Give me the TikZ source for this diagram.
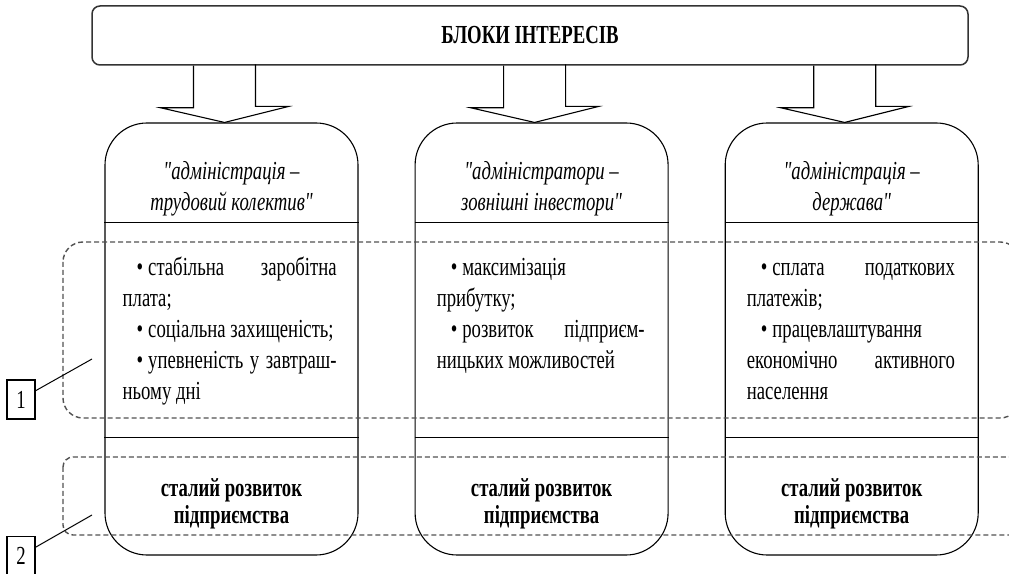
\documentclass[tikz,border=0pt]{standalone}
\usepackage{fontspec}
\setmainfont{Liberation Serif}[FakeStretch=0.72, Ligatures=TeXOff]
\usetikzlibrary{positioning,calc}
\newcommand{\bitem}{\par\hspace*{14pt}•\hspace{5pt}}
\tikzset{
  block/.style={
    draw,
    line width=1.1pt,
    rounded corners=42pt,
    minimum width=253pt,
    minimum height=432pt,
    inner sep=0pt,
  },
  banner/.style={draw=black!80, line width=1.5pt, rounded corners=8pt,
    minimum width=876pt, minimum height=59pt,
    font=\bfseries\fontsize{26}{30}\selectfont},
  head/.style={align=center, inner sep=0pt, font=\itshape\fontsize{26}{31}\selectfont},
  points/.style={anchor=base west, inner sep=0pt, font=\fontsize{26}{31}\selectfont},
  foot/.style={align=center, inner sep=0pt, font=\bfseries\fontsize{26}{27}\selectfont},
  zone/.style={draw=black!68, line width=1.4pt, dash pattern=on 5pt off 3pt},
  lab/.style={draw, line width=1.1pt, minimum width=28pt, minimum height=39pt,
    inner sep=0pt, font=\fontsize{26}{28}\selectfont},
}
\begin{document}
\begin{tikzpicture}[x=1pt, y=1pt, node distance=56pt]
  \useasboundingbox (0,0) rectangle (1009,573);
  \clip (0,0) rectangle (1009,573);

  \node[banner] (top) at (530,537.5) {БЛОКИ ІНТЕРЕСІВ};

  \node[block] (b1) at (231.5,234) {};
  \node[block, right=of b1] (b2) {};
  \node[block, right=of b2] (b3) {};

  % fat arrows and split lines
  \foreach \b in {b1,b2,b3}{
    \draw[line width=1.1pt] ($(\b.north |- top.south)+(-38,0)$) -- ++(0,-42) -- ++(-33,0)
      -- ($(\b.north)+(-7,0)$) -- ++(64,16) -- ++(-33,0) -- ++(0,42);
    \draw[line width=1.1pt] ($(\b.north west)+(0,-100)$) -- ($(\b.north east)+(0,-100)$);
    \draw[line width=1.1pt] ($(\b.north west)+(0,-315)$) -- ($(\b.north east)+(0,-315)$);
  }

  \node[head] (h1) at ($(b1.north)+(0,-66)$) {"адміністрація –\\трудовий колектив"};
  \node[head] (h2) at ($(b2.north)+(0,-66)$) {"адміністратори –\\зовнішні інвестори"};
  \node[head] (h3) at ($(b3.north)+(0,-66)$) {"адміністрація –\\держава"};

  \node[points] (t1) at ($(b1.north west)+(18,-153)$) {\parbox[t]{214pt}{%
    \bitem стабільна заробітна\linebreak плата;
    \bitem \mbox{соціальна захищеність;}
    \bitem упевненість у завтраш-\linebreak ньому дні}};
  \node[points] (t2) at ($(b2.north west)+(22,-153)$) {\parbox[t]{208pt}{%
    \bitem максимізація\newline прибутку;
    \bitem розвиток підприєм-\linebreak ницьких можливостей}};
  \node[points] (t3) at ($(b3.north west)+(22,-153)$) {\parbox[t]{208pt}{%
    \bitem сплата податкових\linebreak платежів;
    \bitem працевлаштування\newline економічно активного\linebreak населення}};

  \node[foot] (f1) at ($(b1.south)+(0,52)$) {сталий розвиток\\підприємства};
  \node[foot] (f2) at ($(b2.south)+(0,52)$) {сталий розвиток\\підприємства};
  \node[foot] (f3) at ($(b3.south)+(0,52)$) {сталий розвиток\\підприємства};

  % dashed zones
  \draw[zone, rounded corners=20pt] (63,331) rectangle (1020,155);
  \draw[zone, rounded corners=10pt] (63,116) rectangle (1040,38);

  \node[lab] (lab1) at (21,173.5) {1};
  \node[lab] (lab2) at (21,17) {2};
  \coordinate (p1) at (92,214);
  \coordinate (p2) at (92,58);
  \draw[line width=1pt] (lab1.31) -- (p1);
  \draw[line width=1pt] (lab2.31) -- (p2);
\end{tikzpicture}
\end{document}
